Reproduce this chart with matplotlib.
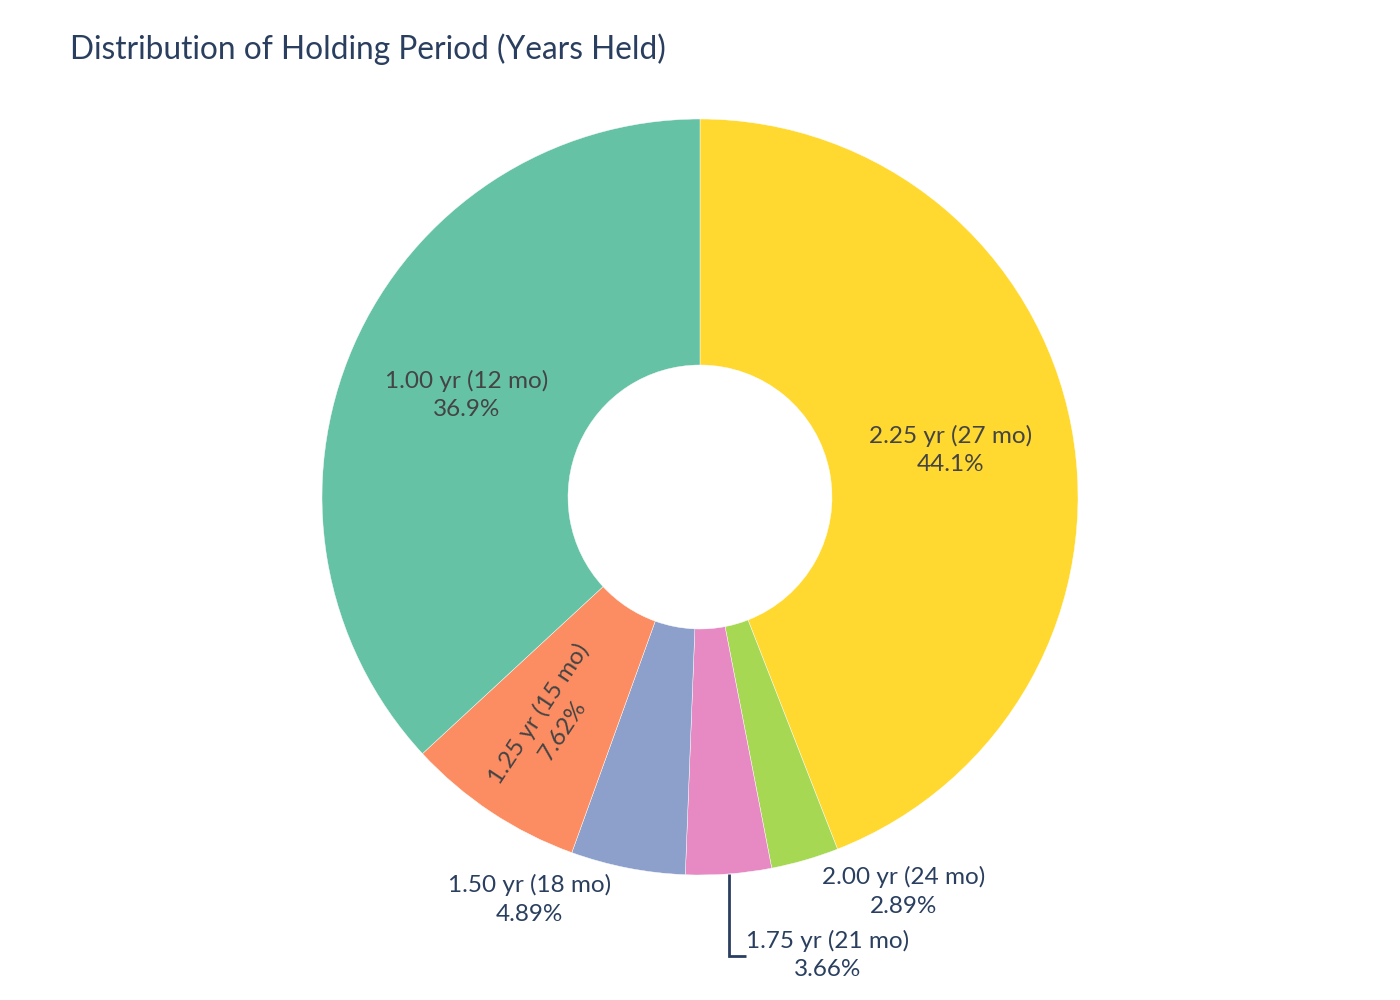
import numpy as np
import matplotlib.pyplot as plt

# holding period buckets, clockwise from 12 o'clock
periods = ['2.25 yr (27 mo)', '2.00 yr (24 mo)', '1.75 yr (21 mo)',
           '1.50 yr (18 mo)', '1.25 yr (15 mo)', '1.00 yr (12 mo)']
shares = [44.1, 2.89, 3.66, 4.89, 7.62, 36.9]
pct_text = ['44.1%', '2.89%', '3.66%', '4.89%', '7.62%', '36.9%']
colors = ['#FFD92F', '#A6D854', '#E78AC3', '#8DA0CB', '#FC8D62', '#66C2A5']
# how each label is placed
placement = ['inside', 'outside', 'leader', 'outside', 'radial', 'inside']

plt.rcParams['font.family'] = ['Lato', 'DejaVu Sans']

fig = plt.figure(figsize=(14, 10), dpi=100)
ax = fig.add_axes([0, 0, 1, 1])

cx, cy = 700, 503
R = 378
hole = 132

wedges, _ = ax.pie(shares, colors=colors, startangle=90, counterclock=False,
                   radius=R, center=(cx, cy),
                   wedgeprops=dict(width=R - hole, edgecolor='white', linewidth=0.3))
ax.set_xlim(0, 1400)
ax.set_ylim(0, 1000)
ax.set_aspect('equal')
ax.axis('off')

inside_col = '#444444'
out_col = '#2a3f5f'
fs = 17.5
ls = 1.45

for w, name, pct, where in zip(wedges, periods, pct_text, placement):
    mid = np.deg2rad((w.theta1 + w.theta2) / 2)
    txt = f'{name}\n{pct}'
    if where in ('inside', 'radial'):
        rm = (R + hole) / 2
        rot = 0
        if where == 'radial':
            rm += 15
            rot = np.rad2deg(mid)
            if rot < -90:
                rot += 180
            elif rot > 90:
                rot -= 180
        x, y = cx + rm * np.cos(mid), cy + rm * np.sin(mid)
        ax.text(x, y, txt, ha='center', va='center', rotation=rot,
                rotation_mode='anchor', multialignment='center',
                fontsize=fs, color=inside_col, linespacing=ls)
    elif where == 'outside':
        ex, ey = cx + R * np.cos(mid), cy + R * np.sin(mid)
        if np.cos(mid) < 0:
            ax.text(ex - 17, ey - 6, txt, ha='right', va='top',
                    multialignment='center', fontsize=fs, color=out_col,
                    linespacing=ls)
        else:
            ax.text(ex + 17, ey - 6, txt, ha='left', va='top',
                    multialignment='center', fontsize=fs, color=out_col,
                    linespacing=ls)
    else:
        ex, ey = cx + R * np.cos(mid), cy + R * np.sin(mid)
        ly = ey - 82
        ax.plot([ex, ex, ex + 17], [ey, ly, ly], color=out_col, lw=2,
                solid_capstyle='butt', solid_joinstyle='miter')
        ax.text(ex + 17, ly + 1, txt, ha='left', va='center',
                multialignment='center', fontsize=fs, color=out_col,
                linespacing=ls)

fig.text(0.05, 0.951, 'Distribution of Holding Period (Years Held)',
         ha='left', va='center', fontsize=22.8, color=out_col)

fig.savefig('out.png', dpi=100)
